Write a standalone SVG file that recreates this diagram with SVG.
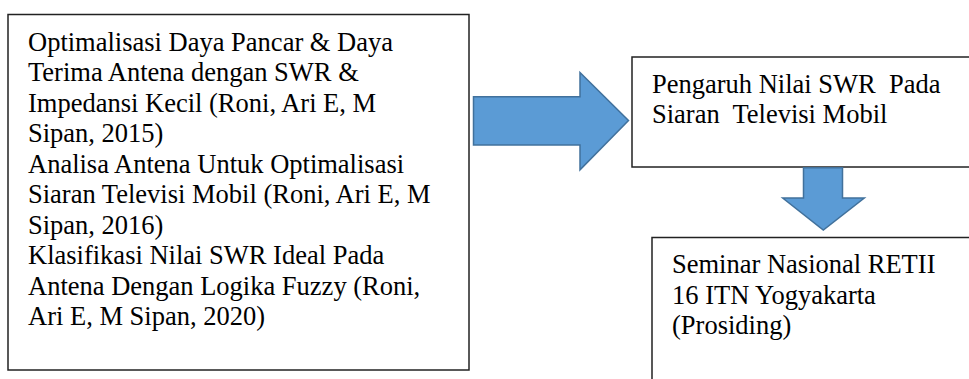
<svg xmlns="http://www.w3.org/2000/svg" width="969" height="379" viewBox="0 0 969 379">
<style>
.box{fill:#fff;stroke:#222;stroke-width:1.5}
.arr{fill:#5B9BD5;stroke:#41719C;stroke-width:1.5;stroke-linejoin:miter}
.t{font-size:26.5px;fill:#000}
</style>
<rect width="969" height="379" fill="#fff"/>
<g id="node-left">
<rect class="box" x="8" y="14.5" width="461" height="355.5"/>
<text class="t" font-family="Liberation Serif, DejaVu Serif, serif" xml:space="preserve"><tspan x="28" y="50.5">Optimalisasi Daya Pancar &amp; Daya</tspan><tspan x="28" y="81">Terima Antena dengan SWR &amp;</tspan><tspan x="28" y="111.5">Impedansi Kecil (Roni, Ari E, M</tspan><tspan x="28" y="142">Sipan, 2015)</tspan><tspan x="28" y="172.5">Analisa Antena Untuk Optimalisasi</tspan><tspan x="28" y="203">Siaran Televisi Mobil (Roni, Ari E, M</tspan><tspan x="28" y="233.5">Sipan, 2016)</tspan><tspan x="28" y="264">Klasifikasi Nilai SWR Ideal Pada</tspan><tspan x="28" y="294.5">Antena Dengan Logika Fuzzy (Roni,</tspan><tspan x="28" y="325">Ari E, M Sipan, 2020)</tspan></text>
</g>
<g id="node-top-right">
<rect class="box" x="632" y="57" width="345" height="110"/>
<text class="t" font-family="Liberation Serif, DejaVu Serif, serif" xml:space="preserve"><tspan x="652" y="93.3">Pengaruh Nilai SWR  Pada</tspan><tspan x="652" y="122.8">Siaran  Televisi Mobil</tspan></text>
</g>
<g id="node-bottom-right">
<rect class="box" x="652" y="237.5" width="325" height="150"/>
<text class="t" font-family="Liberation Serif, DejaVu Serif, serif" xml:space="preserve"><tspan x="672" y="273.3">Seminar Nasional RETII</tspan><tspan x="672" y="303.6">16 ITN Yogyakarta</tspan><tspan x="672" y="334">(Prosiding)</tspan></text>
</g>
<g id="connectors">
<polygon class="arr" points="473.5,96.8 580,96.8 580,72.5 628.5,120.5 580,169.8 580,145 473.5,145"/>
<polygon class="arr" points="803.5,167.8 842.5,167.8 842.5,198 864.3,198 823.3,230 782.7,198 803.5,198"/>
</g>
</svg>
